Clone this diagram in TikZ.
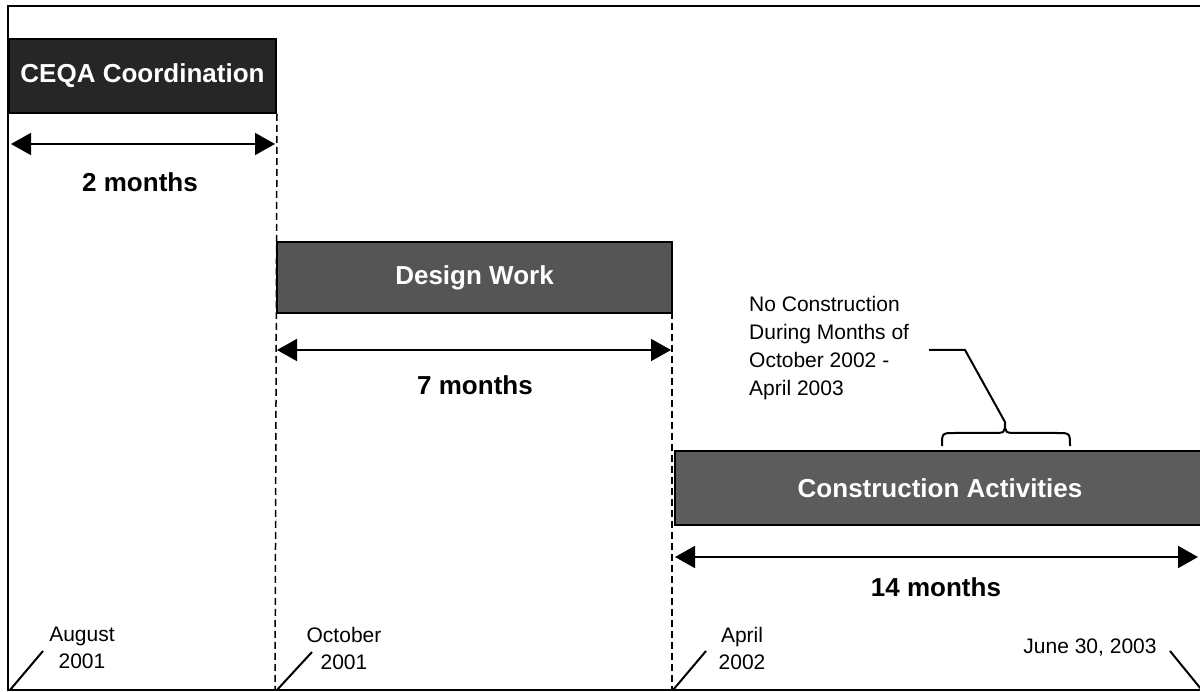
\documentclass[tikz,border=0pt]{standalone}
\usepackage{fontspec}
\setmainfont{Liberation Sans}
\usetikzlibrary{arrows.meta}
\definecolor{ceqafill}{HTML}{262626}
\definecolor{designfill}{HTML}{555555}
\definecolor{constrfill}{HTML}{5C5C5C}
\begin{document}
\begin{tikzpicture}[x=1pt,y=-1pt,
  bar/.style={draw=black, line width=2pt, anchor=north west, inner sep=0pt, text=white, font=\fontsize{26}{30}\selectfont\bfseries},
  span/.style={line width=1.8pt, {Triangle[length=20pt,width=22pt]}-{Triangle[length=20pt,width=22pt]}},
  guide/.style={line width=1.5pt, dash pattern=on 7pt off 4pt},
  dur/.style={font=\fontsize{26}{30}\selectfont\bfseries},
  datelbl/.style={font=\fontsize{21}{27}\selectfont, align=center},
  tickline/.style={line width=2pt}]
\useasboundingbox (0,0) rectangle (1200,692);
% frame
\draw[line width=2.5pt] (1204,6) -- (8,6) -- (8,690) -- (1204,690);

% bars
\node[bar, fill=ceqafill, minimum width=267pt, minimum height=74pt] (ceqa) at (8,38) {CEQA Coordination};
\node[bar, fill=designfill, minimum width=395pt, minimum height=71pt] (design) at (276,241) {Design Work};
\node[bar, fill=constrfill, minimum width=530pt, minimum height=74pt] (constr) at (674,450) {Construction Activities};

% guides
\coordinate (g1) at (275,690);
\coordinate (g2) at (672,690);
\draw[guide] (ceqa.south east) -- (g1);
\draw[guide] (672,312) -- (g2);

% spans
\coordinate (a1) at (11,144);
\coordinate (a2) at (275,144);
\coordinate (b1) at (277,350);
\coordinate (b2) at (671,350);
\coordinate (c1) at (675,557);
\coordinate (c2) at (1198,557);
\draw[span] (a1) -- (a2);
\draw[span] (b1) -- (b2);
\draw[span] (c1) -- (c2);
\node[dur] (m2) at (140,182) {2 months};
\node[dur] (m7) at (475,385) {7 months};
\node[dur] (m14) at (936,587) {14 months};

% dates
\node[datelbl] (d1) at (82,648) {August\\2001};
\node[datelbl] (d2) at (344,648) {October\\2001};
\node[datelbl] (d3) at (742,648) {April\\2002};
\node[datelbl] (d4) at (1090,648) {June 30, 2003};
\coordinate (t1b) at (10,690); \coordinate (t1t) at (43,651);
\coordinate (t2b) at (277,690); \coordinate (t2t) at (312,652);
\coordinate (t3b) at (673,690); \coordinate (t3t) at (706,651);
\coordinate (t4t) at (1170,651); \coordinate (t4b) at (1201,689);
\draw[tickline] (t1b) -- (t1t);
\draw[tickline] (t2b) -- (t2t);
\draw[tickline] (t3b) -- (t3t);
\draw[tickline] (t4t) -- (t4b);

% callout
\node[font=\fontsize{21}{28}\selectfont, align=left, anchor=north west, inner sep=0pt] (note) at (749,296) {No Construction\\During Months of\\October 2002 -\\April 2003};
\coordinate (c0) at (929,350);
\coordinate (elbow) at (965,350);
\coordinate (tip) at (1005,422);
\draw[tickline] (c0) -- (elbow) -- (tip);
\draw[line width=2pt] (942,446) .. controls (942,433) .. (955,433) -- (992,433) .. controls (1005,433) .. (tip) .. controls (1005,433) .. (1018,433) -- (1057,433) .. controls (1070,433) .. (1070,446);
\end{tikzpicture}
\end{document}
